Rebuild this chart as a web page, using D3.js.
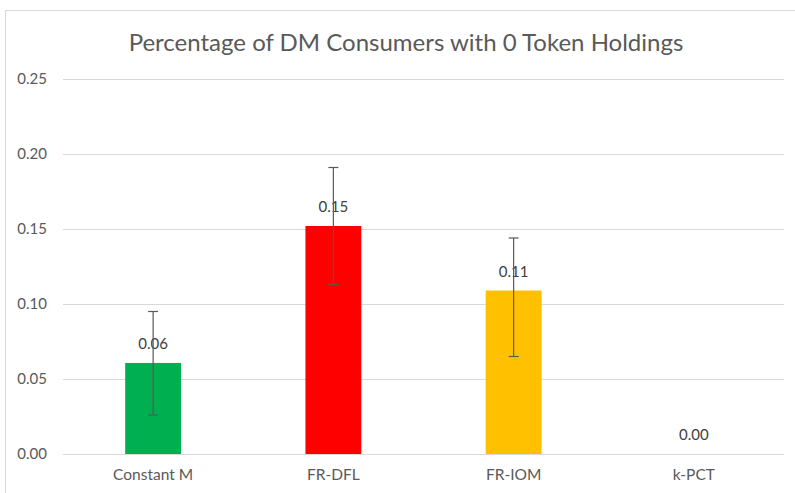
<!DOCTYPE html>
<html>
<head>
<meta charset="utf-8">
<script src="https://cdn.jsdelivr.net/npm/d3@7"></script>
<style>
  body { margin: 0; background: #fff; }
  svg { display: block; font-family: Lato, "Open Sans", sans-serif; }
</style>
</head>
<body>
<div id="chart"></div>
<script>
// chart data
var categories = ["Constant M", "FR-DFL", "FR-IOM", "k-PCT"];
var values = [0.0607, 0.152, 0.109, 0];
var errLow = [0.026, 0.113, 0.065, null];
var errHigh = [0.095, 0.191, 0.144, null];
var colors = ["#00b050", "#ff0000", "#ffc000", "#a5a5a5"];
var yTicks = [0, 0.05, 0.10, 0.15, 0.20, 0.25];
var title = "Percentage of DM Consumers with 0 Token Holdings";

var w = 795;
var h = 493;
var margin = { top: 79, right: 11, bottom: 39, left: 63 };
var width = w - margin.left - margin.right;
var height = h - margin.top - margin.bottom;

var svg = d3.select("#chart")
    .append("svg")
    .attr("width", w)
    .attr("height", h);

// chart border (only top and left are visible in the picture)
svg.append("rect")
    .attr("x", 5.5)
    .attr("y", 10.5)
    .attr("width", 820)
    .attr("height", 520)
    .attr("fill", "none")
    .attr("stroke", "#d9d9d9");

svg.append("text")
    .attr("x", 406)
    .attr("y", 51)
    .attr("text-anchor", "middle")
    .style("font-size", "24px")
    .style("fill", "#595959")
    .text(title);

var g = svg.append("g")
    .attr("transform", `translate(${margin.left}, ${margin.top})`);

var xScale = d3.scaleBand()
    .domain(categories)
    .range([0, width])
    .paddingInner(0.69)
    .paddingOuter(0.345);

var yScale = d3.scaleLinear()
    .domain([0, 0.25])
    .range([height, 0]);

// gridlines + y labels
var yAxis = g.append("g")
    .call(d3.axisLeft(yScale).tickValues(yTicks).tickSize(-width).tickFormat(d3.format(".2f")).tickPadding(16));
yAxis.select(".domain").remove();
yAxis.selectAll("line").attr("stroke", "#d9d9d9");
yAxis.selectAll("text")
    .style("font-size", "15px")
    .style("font-family", "Lato, sans-serif")
    .style("fill", "#595959");

// x labels
var xAxis = g.append("g")
    .attr("transform", `translate(0,${height})`)
    .call(d3.axisBottom(xScale).tickSize(0).tickPadding(15));
xAxis.select(".domain").remove();
xAxis.selectAll("text")
    .style("font-size", "15.5px")
    .style("font-family", "Lato, sans-serif")
    .style("fill", "#595959");

var data = categories.map((c, i) => ({ cat: c, value: values[i], lo: errLow[i], hi: errHigh[i], color: colors[i] }));

// bars
g.selectAll(".bar")
    .data(data)
    .enter()
    .append("rect")
    .attr("class", "bar")
    .attr("x", d => xScale(d.cat))
    .attr("y", d => yScale(d.value))
    .attr("width", xScale.bandwidth())
    .attr("height", d => height - yScale(d.value))
    .attr("fill", d => d.color);

// value labels
g.selectAll(".label")
    .data(data)
    .enter()
    .append("text")
    .attr("class", "label")
    .attr("x", d => xScale(d.cat) + xScale.bandwidth() / 2)
    .attr("y", d => yScale(d.value) - 14)
    .attr("text-anchor", "middle")
    .style("font-size", "15px")
    .style("fill", "#404040")
    .text(d => d3.format(".2f")(d.value));

// error bars
var eb = g.selectAll(".err")
    .data(data.filter(d => d.lo !== null))
    .enter()
    .append("g")
    .attr("class", "err")
    .attr("stroke", "#595959")
    .attr("stroke-width", 1.2);

eb.append("line")
    .attr("x1", d => xScale(d.cat) + xScale.bandwidth() / 2)
    .attr("x2", d => xScale(d.cat) + xScale.bandwidth() / 2)
    .attr("y1", d => yScale(d.lo))
    .attr("y2", d => yScale(d.hi));

[ "lo", "hi" ].forEach(function(k) {
    eb.append("line")
        .attr("x1", d => xScale(d.cat) + xScale.bandwidth() / 2 - 5)
        .attr("x2", d => xScale(d.cat) + xScale.bandwidth() / 2 + 5)
        .attr("y1", d => yScale(d[k]))
        .attr("y2", d => yScale(d[k]));
});
</script>
</body>
</html>
